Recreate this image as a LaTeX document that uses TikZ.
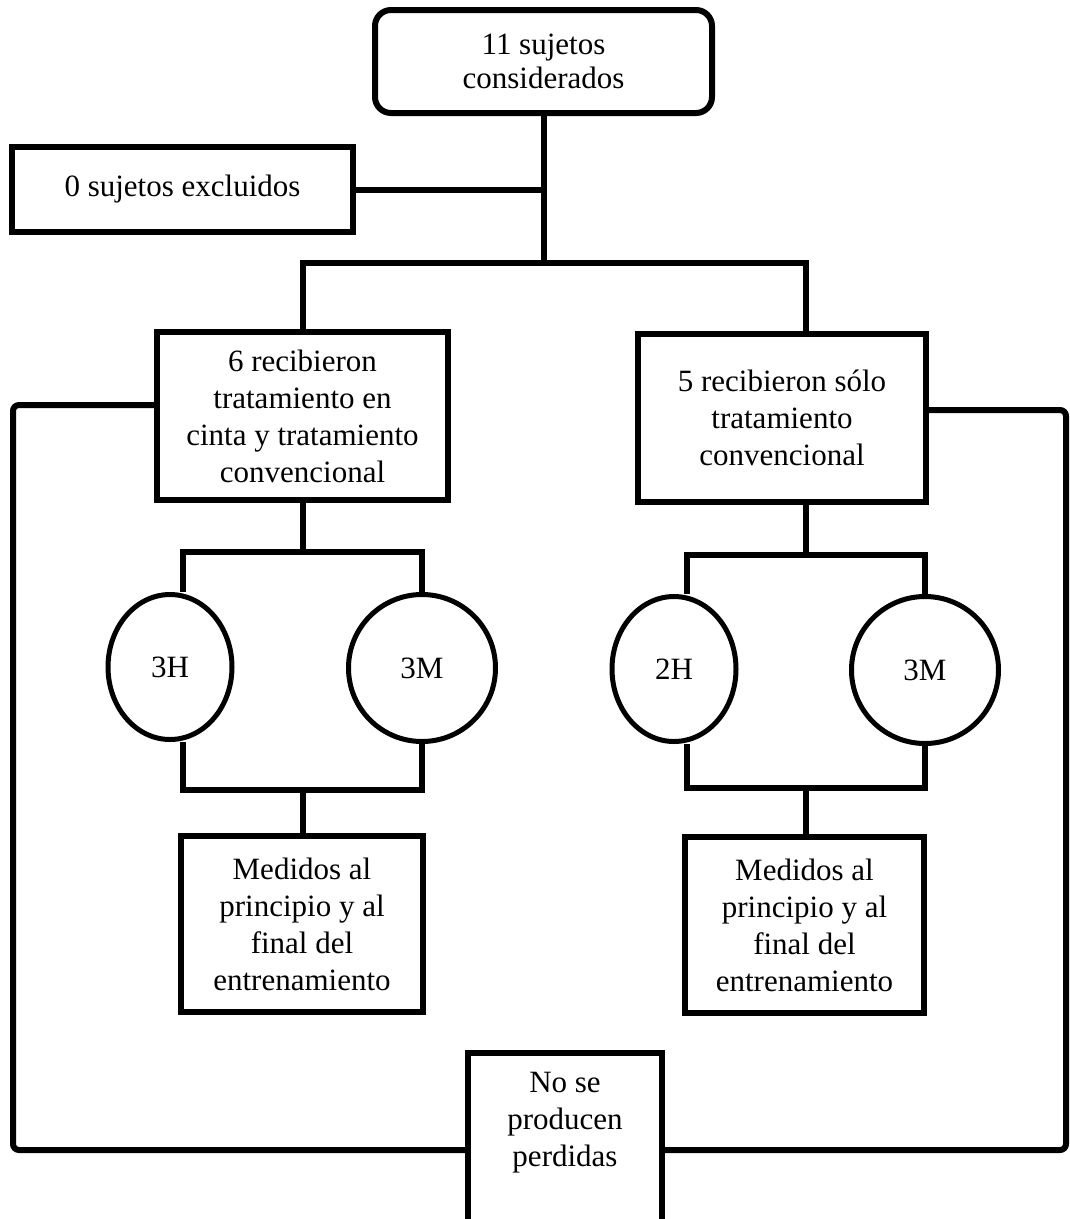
\documentclass[tikz,border=0pt]{standalone}
\usepackage{fontspec}
\setmainfont{Liberation Serif}
\usetikzlibrary{shapes.geometric}

\begin{document}
\begin{tikzpicture}
[x=1pt,y=-1pt,line width=6pt,%
  every node/.style={align=center,inner sep=0pt},%
  box/.style={draw,rectangle,line width=6pt},%
  oval/.style={draw,ellipse,line width=5pt,minimum width=124pt,minimum height=145pt},%
  circ/.style={draw,circle,line width=5pt,minimum size=147pt}]
\fontsize{31}{37}\selectfont
\useasboundingbox (0,0) rectangle (1070,1219);
\clip (0,0) rectangle (1070,1219);

% boxes
\node[box,rounded corners=16pt,minimum width=337pt,minimum height=103pt,%
  font=\fontsize{31}{34}\selectfont] (cons) at (543.5,61.5) {11 sujetos\\considerados};
\node[box,minimum width=341pt,minimum height=85pt] (excl) at (182.5,189.5) {0 sujetos excluidos};
\node[box,minimum width=291pt,minimum height=168pt] (lbox) at (302.5,416)
  {6 recibieron\\tratamiento en\\cinta y tratamiento\\convencional};
\node[box,minimum width=288pt,minimum height=168pt] (rbox) at (782,418)
  {5 recibieron sólo\\tratamiento\\convencional};
\node[oval] (l3h) at (170,667) {3H};
\node[circ] (l3m) at (422,668) {3M};
\node[oval] (r2h) at (674,669) {2H};
\node[circ] (r3m) at (925,670) {3M};
\node[box,minimum width=242pt,minimum height=176pt] (lmed) at (302,924)
  {Medidos al\\principio y al\\final del\\entrenamiento};
\node[box,minimum width=239pt,minimum height=176pt] (rmed) at (804.5,925)
  {Medidos al\\principio y al\\final del\\entrenamiento};
\node[box,minimum width=194pt,minimum height=194pt] (perd) at (565,1150) {};
\node (perdtxt) at (565,1123) {No se\\producen\\perdidas};

% junctions
\coordinate (split) at (543.5,263);
\coordinate (lsplit) at (303,263);
\coordinate (rsplit) at (806,263);
\coordinate (ltop) at (303,552);
\coordinate (ltl) at (183,552);
\coordinate (ltr) at (422,552);
\coordinate (lbot) at (303,790);
\coordinate (lbl) at (183,790);
\coordinate (lbr) at (422,790);
\coordinate (rtop) at (806,555);
\coordinate (rtl) at (687,555);
\coordinate (rtr) at (925,555);
\coordinate (rbot) at (806,788);
\coordinate (rbl) at (687,788);
\coordinate (rbr) at (925,788);
\coordinate (lfar) at (13,1150);
\coordinate (rfar) at (1066,1150);

% connectors
\draw (cons.south) -- (split);
\draw (excl.east) -- (excl.east -| split);
\draw (lbox.north -| lsplit) -- (lsplit) -- (rsplit) -- (rbox.north -| rsplit);
\draw (lbox.south -| ltop) -- (ltop);
\draw (l3h.north -| ltl) -- (ltl) -- (ltr) -- (l3m.north);
\draw (l3h.south -| lbl) -- (lbl) -- (lbr) -- (l3m.south);
\draw (lbot) -- (lmed.north -| lbot);
\draw (rbox.south -| rtop) -- (rtop);
\draw (r2h.north -| rtl) -- (rtl) -- (rtr) -- (r3m.north);
\draw (r2h.south -| rbl) -- (rbl) -- (rbr) -- (r3m.south);
\draw (rbot) -- (rmed.north -| rbot);
\draw[rounded corners=6pt] ([yshift=11pt]lbox.west) -| (lfar) -- (perd.west);
\draw[rounded corners=6pt] ([yshift=8pt]rbox.east) -| (rfar) -- (perd.east);
\end{tikzpicture}
\end{document}
